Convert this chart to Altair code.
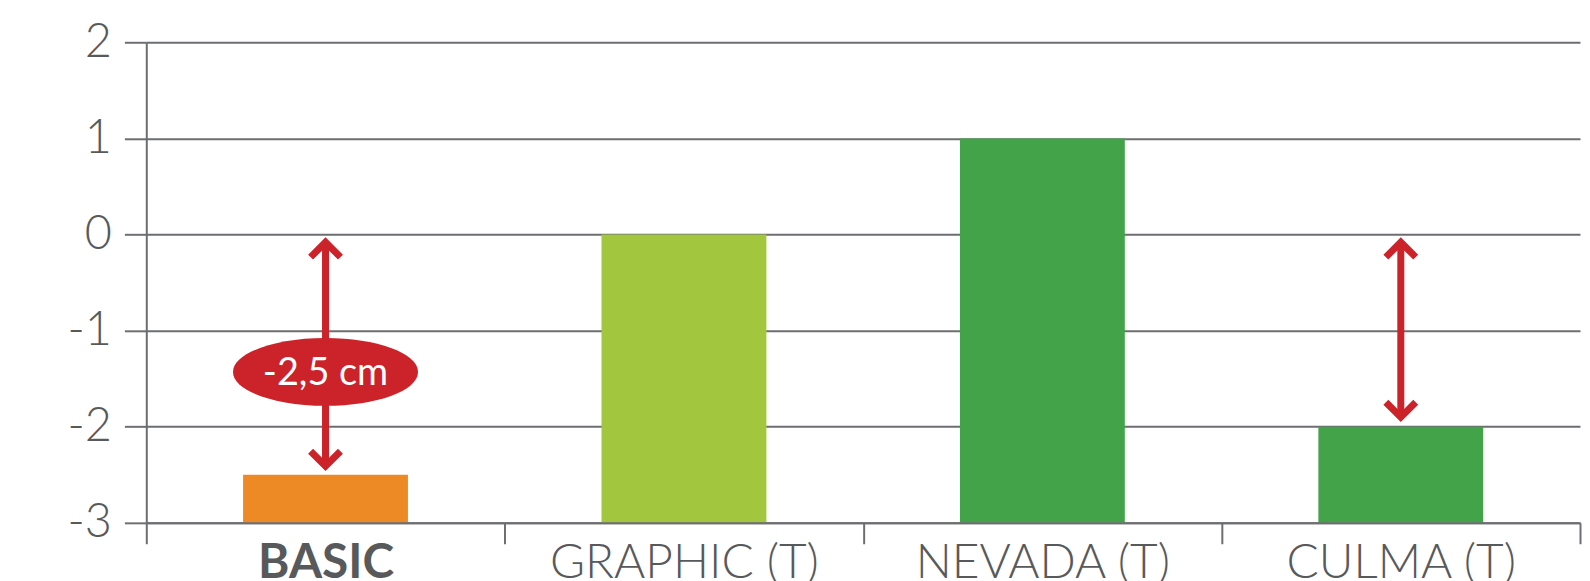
import altair as alt
import pandas as pd

# ---- data ----
categories = ["BASIC", "GRAPHIC (T)", "NEVADA (T)", "CULMA (T)"]
values = [-2.5, 0, 1, -2]
bar_colors = ["#ee8a25", "#a3c63f", "#43a348", "#43a348"]
baseline = -3

arrow_cats = ["BASIC", "CULMA (T)"]
arrow_top = [-0.08, -0.08]
arrow_bottom = [-2.41, -1.9]

label_cat = ["BASIC"]
label_y = [-1.43]
label_text = ["-2,5 cm"]

y_ticks = [-3, -2, -1, 0, 1, 2]

GRAY = "#6d6e71"
TEXT = "#58595b"
RED = "#cc2229"
FONT = "Lato"

bars_df = pd.DataFrame({"cat": categories, "value": values,
                        "base": [baseline] * len(categories), "color": bar_colors})
arrows_df = pd.DataFrame({"cat": arrow_cats, "top": arrow_top, "bottom": arrow_bottom})
label_df = pd.DataFrame({"cat": label_cat, "y": label_y, "text": label_text})

x_enc = alt.X("cat:N", sort=categories,
              scale=alt.Scale(paddingInner=0, paddingOuter=0),
              axis=alt.Axis(title=None, labelAngle=0, labelFontSize=48, labelFont=FONT,
                            labelColor=TEXT, labelPadding=-4, labelLimit=0,
                            labelFontWeight={"condition": {"test": "datum.value == 'BASIC'", "value": "bold"}, "value": 300},
                            tickBand="extent", tickSize=21, tickColor=GRAY, tickWidth=2,
                            domainColor=GRAY, domainWidth=2, grid=False, zindex=1))
y_scale = alt.Scale(domain=[-3, 2], nice=False, zero=False)
y_axis = alt.Axis(title=None, values=y_ticks, labelExpr="'' + datum.value",
                  labelFontSize=47, labelFont=FONT, labelColor=TEXT, labelFontWeight=300,
                  labelPadding=13, tickSize=22, tickColor=GRAY, tickWidth=2,
                  domainColor=GRAY, domainWidth=2, grid=True, gridColor=GRAY, gridWidth=2,
                  gridOpacity=1)

bars = alt.Chart(bars_df).mark_bar(width=alt.RelativeBandSize(0.46)).encode(
    x=x_enc,
    y=alt.Y("value:Q", scale=y_scale, axis=y_axis),
    y2="base:Q",
    color=alt.Color("color:N", scale=None),
)

shaft = alt.Chart(arrows_df).mark_rule(color=RED, strokeWidth=7).encode(
    x=alt.X("cat:N", sort=categories), y="top:Q", y2="bottom:Q")

head_size = 30 ** 2
head_up = alt.Chart(arrows_df).mark_point(
    shape="M-1,1L0,0L1,1", size=head_size, filled=False, stroke=RED, strokeWidth=7, opacity=1
).encode(x=alt.X("cat:N", sort=categories), y="top:Q")

head_down = alt.Chart(arrows_df).mark_point(
    shape="M-1,-1L0,0L1,-1", size=head_size, filled=False, stroke=RED, strokeWidth=7, opacity=1
).encode(x=alt.X("cat:N", sort=categories), y="bottom:Q")

ellipse = alt.Chart(label_df).mark_point(
    shape="M-1,0A1,0.366,0,1,1,1,0A1,0.366,0,1,1,-1,0Z", size=186 ** 2,
    filled=True, fill=RED, stroke=RED, strokeWidth=0, opacity=1
).encode(x=alt.X("cat:N", sort=categories), y="y:Q")

label = alt.Chart(label_df).mark_text(
    color="white", fontSize=38, font=FONT, baseline="middle", align="center", dy=2
).encode(x=alt.X("cat:N", sort=categories), y="y:Q", text="text:N")

chart = alt.layer(bars, shaft, head_up, head_down, ellipse, label).properties(
    width=1441, height=483,
    autosize=alt.AutoSizeParams(type="none"),
    padding={"left": 139, "top": 33, "right": 2, "bottom": 57},
).configure_view(strokeWidth=0)

chart.save("out.html", embed_options={"renderer": "svg", "actions": False})
